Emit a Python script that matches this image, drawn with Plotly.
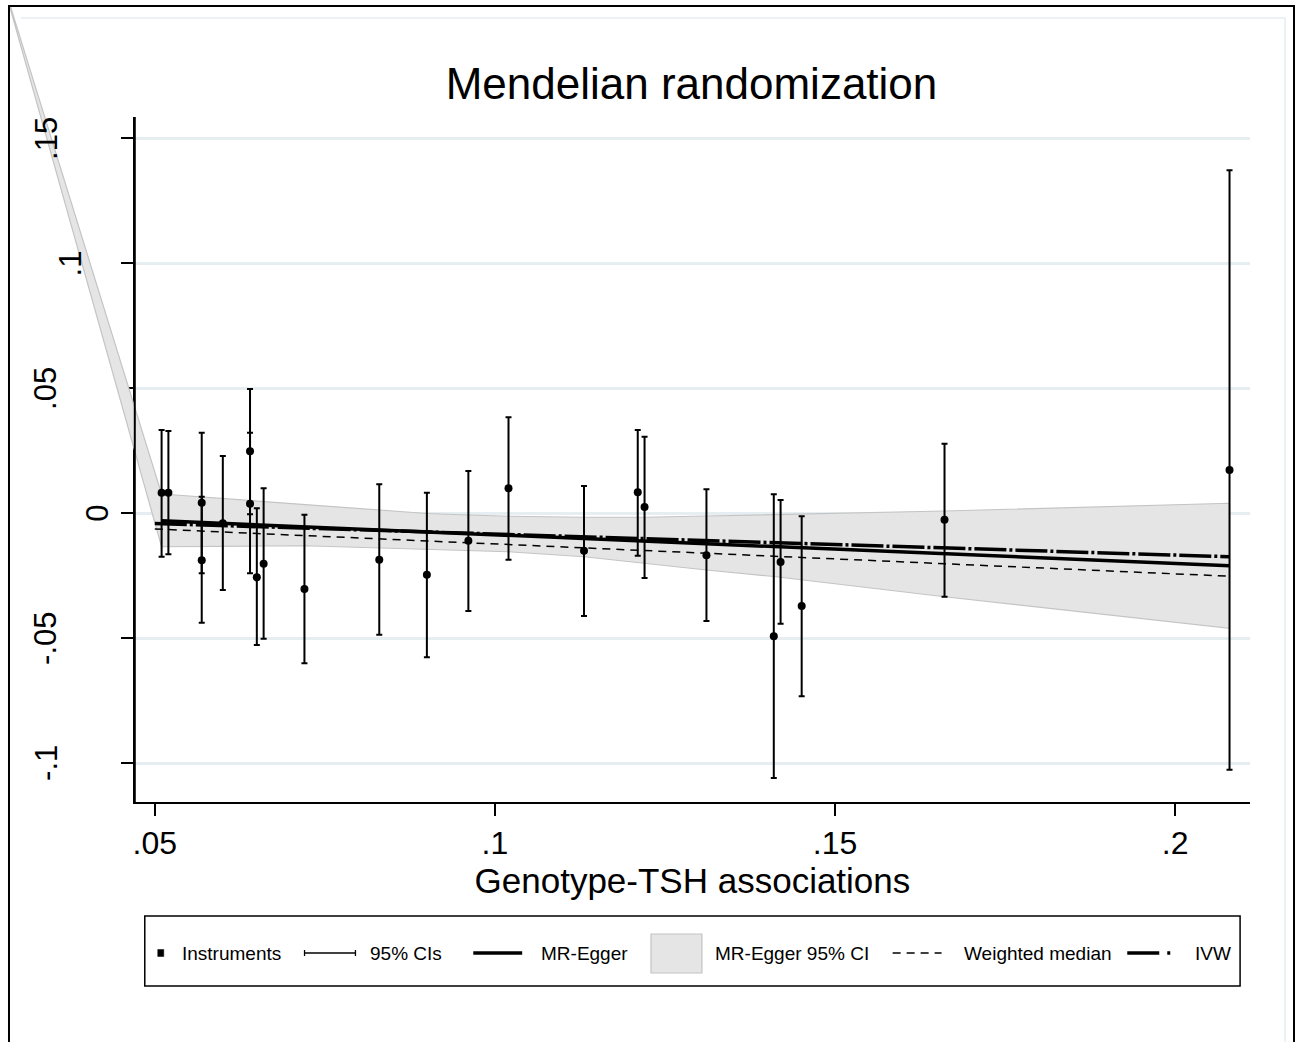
import plotly.graph_objects as go

# ---------------------------------------------------------------
# Data: genotype-TSH associations (x) vs genotype-outcome (y)
# ---------------------------------------------------------------
inst_x = [0.0510, 0.0520, 0.0569, 0.0569, 0.0600, 0.0640, 0.0640, 0.0650,
          0.0660, 0.0720, 0.0830, 0.0900, 0.0961, 0.1020, 0.1131, 0.1210,
          0.1220, 0.1311, 0.1410, 0.1420, 0.1451, 0.1661, 0.2080]
inst_y = [0.0081, 0.0081, 0.0041, -0.0189, -0.0041, 0.0247, 0.0037, -0.0257,
          -0.0203, -0.0304, -0.0187, -0.0247, -0.0111, 0.0099, -0.0151, 0.0083,
          0.0024, -0.0169, -0.0493, -0.0196, -0.0372, -0.0027, 0.0172]
ci_lo = [-0.0175, -0.0165, -0.0241, -0.0439, -0.0308, -0.0005, -0.0241, -0.0528,
         -0.0503, -0.0601, -0.0487, -0.0577, -0.0392, -0.0187, -0.0412, -0.0171,
         -0.0260, -0.0432, -0.1060, -0.0443, -0.0733, -0.0335, -0.1027]
ci_hi = [0.0332, 0.0328, 0.0321, 0.0065, 0.0228, 0.0496, 0.0321, 0.0019,
         0.0099, -0.0007, 0.0115, 0.0081, 0.0168, 0.0383, 0.0108, 0.0332,
         0.0305, 0.0095, 0.0075, 0.0052, -0.0013, 0.0277, 0.1371]

# MR-Egger 95% CI band (first vertex is the stray point drawn off to the upper left)
band_x = [0.0276, 0.0510, 0.0520, 0.0569, 0.0600, 0.0640, 0.0650, 0.0660,
          0.0720, 0.0830, 0.0900, 0.0961, 0.1020, 0.1131, 0.1210, 0.1220,
          0.1311, 0.1410, 0.1420, 0.1451, 0.1661, 0.2080]
band_upper = [0.2130, 0.0076, 0.0074, 0.0064, 0.0058, 0.0050, 0.0048, 0.0046,
              0.0032, 0.0010, -0.0002, -0.0008, -0.0013, -0.0017, -0.0017, -0.0017,
              -0.0012, -0.0006, -0.0005, -0.0003, 0.0008, 0.0039]
band_lower = [0.2130, -0.0135, -0.0134, -0.0133, -0.0133, -0.0132, -0.0132, -0.0132,
              -0.0131, -0.0138, -0.0144, -0.0150, -0.0155, -0.0175, -0.0199, -0.0202,
              -0.0228, -0.0254, -0.0257, -0.0266, -0.0335, -0.0461]

egger_x = [0.0510, 0.2080]
egger_y = [-0.0031, -0.0211]
ivw_x = [0.0500, 0.2080]
ivw_y = [-0.0042, -0.0175]
wm_x = [0.0500, 0.2080]
wm_y = [-0.0064, -0.0253]

x_ticks = [0.05, 0.10, 0.15, 0.20]
x_ticktext = [".05", ".1", ".15", ".2"]
y_ticks = [-0.10, -0.05, 0.0, 0.05, 0.10, 0.15]
y_ticktext = ["-.1", "-.05", "0", ".05", ".1", ".15"]

legend_labels = ["Instruments", "95% CIs", "MR-Egger", "MR-Egger 95% CI",
                 "Weighted median", "IVW"]

# ---------------------------------------------------------------
# Page geometry (pixels)
# ---------------------------------------------------------------
W, H = 1298, 1042
FONT = "Liberation Sans, Arial, Helvetica, sans-serif"
PLOT_L, PLOT_R, PLOT_T, PLOT_B = 133, 1250, 117, 802
X_RANGE = [0.04706, 0.21102]
Y_RANGE = [-0.1156, 0.1584]


def fx(p):
    return p / W


def fy(p):
    return 1 - p / H


# a second, invisible pair of axes with the same scale but a larger
# domain, so the stray band vertex can be drawn outside the frame
sx = (PLOT_R - PLOT_L) / (X_RANGE[1] - X_RANGE[0])
sy = (PLOT_B - PLOT_T) / (Y_RANGE[1] - Y_RANGE[0])
OV_L, OV_T = 8, 7
x2_range = [X_RANGE[0] - (PLOT_L - OV_L) / sx, X_RANGE[0] + (W - PLOT_L) / sx]
y2_range = [Y_RANGE[0] - (H - PLOT_B) / sy, Y_RANGE[1] + (PLOT_T - OV_T) / sy]

fig = go.Figure()

# empty trace so the framed subplot (axes, ticks, grid) is built
fig.add_trace(go.Scatter(x=[], y=[], xaxis="x", yaxis="y", mode="markers",
                         showlegend=False, hoverinfo="skip"))

# MR-Egger confidence band
fig.add_trace(go.Scatter(
    x=band_x + band_x[::-1], y=band_upper + band_lower[::-1],
    xaxis="x2", yaxis="y2", mode="lines", fill="toself",
    fillcolor="#e5e5e5", line=dict(color="#c4c4c4", width=1.2),
    name="MR-Egger 95% CI", showlegend=False, hoverinfo="skip"))

# weighted median
fig.add_trace(go.Scatter(
    x=wm_x, y=wm_y, xaxis="x2", yaxis="y2", mode="lines",
    line=dict(color="black", width=1.5, dash="8px,6px"),
    name="Weighted median", showlegend=False))

# IVW
fig.add_trace(go.Scatter(
    x=ivw_x, y=ivw_y, xaxis="x2", yaxis="y2", mode="lines",
    line=dict(color="black", width=3.5, dash="32px,3px,3px,3px"),
    name="IVW", showlegend=False))

# MR-Egger
fig.add_trace(go.Scatter(
    x=egger_x, y=egger_y, xaxis="x2", yaxis="y2", mode="lines",
    line=dict(color="black", width=3.5),
    name="MR-Egger", showlegend=False))

# instruments with 95% CIs
fig.add_trace(go.Scatter(
    x=inst_x, y=inst_y, xaxis="x2", yaxis="y2", mode="markers",
    marker=dict(color="black", size=8, symbol="circle"),
    error_y=dict(type="data", symmetric=False,
                 array=[h - y for h, y in zip(ci_hi, inst_y)],
                 arrayminus=[y - l for l, y in zip(ci_lo, inst_y)],
                 color="black", thickness=2, width=3),
    name="Instruments", showlegend=False))

# ---------------------------------------------------------------
# Layout
# ---------------------------------------------------------------
axis_common = dict(showline=True, linecolor="black", linewidth=2,
                   ticks="outside", ticklen=12, tickwidth=2, tickcolor="black",
                   zeroline=False, fixedrange=True)

fig.update_layout(
    width=W, height=H, autosize=False,
    margin=dict(l=0, r=0, t=0, b=0),
    paper_bgcolor="white", plot_bgcolor="rgba(0,0,0,0)",
    font=dict(family=FONT, color="black"),
    showlegend=False,
    title=dict(text="Mendelian randomization", x=fx((PLOT_L + PLOT_R) / 2),
               xanchor="center", y=fy(84), yanchor="middle",
               font=dict(size=44, family=FONT, color="black")),
    xaxis=dict(domain=[fx(PLOT_L), fx(PLOT_R)], range=X_RANGE, anchor="y",
               tickvals=x_ticks, ticktext=x_ticktext, showgrid=False,
               tickfont=dict(size=32, family=FONT, color="black"),
               ticklabelstandoff=0,
               title=dict(text="Genotype-TSH associations", standoff=2,
                          font=dict(size=35, family=FONT, color="black")),
               **axis_common),
    yaxis=dict(domain=[fy(PLOT_B), fy(PLOT_T)], range=Y_RANGE, anchor="x",
               tickvals=y_ticks, showticklabels=False,
               showgrid=True, gridcolor="#e6eef1", gridwidth=3,
               **axis_common),
    xaxis2=dict(domain=[fx(OV_L), 1], range=x2_range, anchor="y2",
                visible=False, fixedrange=True),
    yaxis2=dict(domain=[0, fy(OV_T)], range=y2_range, anchor="x2",
                visible=False, fixedrange=True),
)

# rotated y tick labels, placed on the y scale
label_cx = {".15": 44, ".1": 68.5, ".05": 43, "0": 95, "-.05": 43, "-.1": 44}
for v, t in zip(y_ticks, y_ticktext):
    fig.add_annotation(x=fx(label_cx[t]), xref="paper", y=v, yref="y",
                       text=t, textangle=-90, showarrow=False,
                       xanchor="center", yanchor="middle",
                       font=dict(size=31, family=FONT, color="black"))

shapes = []
# inner graph-region outline (top and right edges) and outer frame
shapes.append(dict(type="path", xref="paper", yref="paper",
                   path="M {a},{b} L {c},{b} L {c},{d}".format(
                       a=fx(19), b=fy(18), c=fx(1285), d=fy(1060)),
                   line=dict(color="#e6eef0", width=1.5), layer="below"))
shapes.append(dict(type="rect", xref="paper", yref="paper",
                   x0=fx(7), x1=fx(1294), y0=fy(1060), y1=fy(6),
                   line=dict(color="black", width=2), layer="above"))
# keep the y axis line on top of the band
shapes.append(dict(type="line", xref="x domain", yref="y domain",
                   x0=0, x1=0, y0=0, y1=1,
                   line=dict(color="black", width=2), layer="above"))

# legend box
LEG_T, LEG_B, LEG_C = 916, 986, 953
shapes.append(dict(type="rect", xref="paper", yref="paper",
                   x0=fx(143), x1=fx(1240), y0=fy(LEG_B), y1=fy(LEG_T),
                   line=dict(color="black", width=1.5), fillcolor="white",
                   layer="above"))
# legend keys
shapes.append(dict(type="rect", xref="paper", yref="paper",
                   x0=fx(156), x1=fx(162), y0=fy(LEG_C + 3.5), y1=fy(LEG_C - 3.5),
                   fillcolor="black", line=dict(color="black", width=0.5),
                   layer="above"))
shapes.append(dict(type="line", xref="paper", yref="paper",
                   x0=fx(303), x1=fx(354), y0=fy(LEG_C), y1=fy(LEG_C),
                   line=dict(color="black", width=1.3), layer="above"))
for xc in (303, 354):
    shapes.append(dict(type="line", xref="paper", yref="paper",
                       x0=fx(xc), x1=fx(xc), y0=fy(LEG_C - 3), y1=fy(LEG_C + 3),
                       line=dict(color="black", width=1.3), layer="above"))
shapes.append(dict(type="line", xref="paper", yref="paper",
                   x0=fx(472), x1=fx(521), y0=fy(LEG_C), y1=fy(LEG_C),
                   line=dict(color="black", width=3.5), layer="above"))
shapes.append(dict(type="rect", xref="paper", yref="paper",
                   x0=fx(650), x1=fx(701), y0=fy(973), y1=fy(934),
                   fillcolor="#e5e5e5", line=dict(color="#c4c4c4", width=1.2),
                   layer="above"))
shapes.append(dict(type="line", xref="paper", yref="paper",
                   x0=fx(892), x1=fx(941), y0=fy(LEG_C), y1=fy(LEG_C),
                   line=dict(color="black", width=1.5, dash="8px,6px"),
                   layer="above"))
shapes.append(dict(type="line", xref="paper", yref="paper",
                   x0=fx(1127), x1=fx(1173), y0=fy(LEG_C), y1=fy(LEG_C),
                   line=dict(color="black", width=3.5, dash="32px,8px,3px,20px"),
                   layer="above"))
fig.update_layout(shapes=shapes)

legend_text_x = [179, 368, 539, 713, 962, 1194]
for lbl, tx in zip(legend_labels, legend_text_x):
    fig.add_annotation(x=fx(tx), y=fy(LEG_C), xref="paper", yref="paper",
                       text=lbl, showarrow=False, xanchor="left",
                       yanchor="middle", borderpad=0,
                       font=dict(size=19, family=FONT, color="black"))

fig.write_html("out.html")
